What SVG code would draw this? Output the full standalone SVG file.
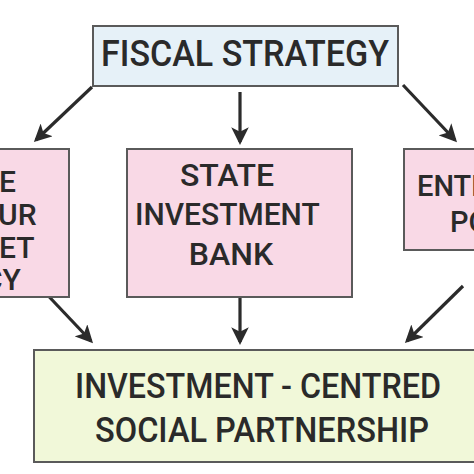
<svg xmlns="http://www.w3.org/2000/svg" width="474" height="474" viewBox="0 0 474 474">
<defs>
<style>
.box{stroke:#5a5a5a;stroke-width:2}
.t{font-family:Roboto,"Liberation Sans",Arial,sans-serif;font-weight:500;fill:#2a2a2a}
.c{stroke:#2b2b2b;stroke-width:3.2;fill:none;marker-end:url(#ah)}
</style>
<marker id="ah" viewBox="0 0 12 12" refX="10" refY="6" markerWidth="5.5" markerHeight="5.5" orient="auto" markerUnits="strokeWidth">
<path d="M0,0 L12,6 L0,12 L3,6 Z" fill="#2b2b2b"/>
</marker>
</defs>
<rect width="474" height="474" fill="#ffffff"/>
<g id="connectors">
<line class="c" x1="92" y1="87" x2="36" y2="140"/>
<line class="c" x1="240" y1="92" x2="240" y2="142"/>
<line class="c" x1="403" y1="85" x2="455" y2="140"/>
<line class="c" x1="38" y1="285" x2="91" y2="341"/>
<line class="c" x1="240" y1="298" x2="240" y2="342"/>
<line class="c" x1="463" y1="286" x2="407" y2="341"/>
</g>
<g id="fiscal-strategy">
<rect class="box" x="93" y="26" width="305" height="60" fill="#e6f1f8"/>
<text class="t" x="245" y="66" font-size="37" text-anchor="middle" textLength="288" lengthAdjust="spacingAndGlyphs">FISCAL STRATEGY</text>
</g>
<g id="labour-market-policy">
<rect class="box" x="-10" y="149" width="79" height="148" fill="#f9d9e6"/>
<text class="t" font-size="30">
<tspan x="-1" y="192">E</tspan>
<tspan x="-2" y="225">UR</tspan>
<tspan x="-1" y="258">ET</tspan>
<tspan x="-17" y="290">CY</tspan>
</text>
</g>
<g id="state-investment-bank">
<rect class="box" x="127" y="149" width="225" height="148" fill="#f9d9e6"/>
<text class="t" font-size="32" text-anchor="middle">
<tspan x="231" y="186">STATE</tspan>
<tspan x="231" y="225" textLength="184" lengthAdjust="spacingAndGlyphs">INVESTMENT</tspan>
<tspan x="231" y="265">BANK</tspan>
</text>
</g>
<g id="enterprise-policy">
<rect class="box" x="404" y="149" width="80" height="101" fill="#f9d9e6"/>
<text class="t" font-size="29">
<tspan x="417" y="196">ENTE</tspan>
<tspan x="450" y="232">PO</tspan>
</text>
</g>
<g id="investment-centred-social-partnership">
<rect class="box" x="34" y="350" width="450" height="112" fill="#f1f8d9"/>
<text class="t" font-size="35">
<tspan x="75" y="398" textLength="366" lengthAdjust="spacingAndGlyphs">INVESTMENT - CENTRED</tspan>
<tspan x="95" y="442" textLength="334" lengthAdjust="spacingAndGlyphs">SOCIAL PARTNERSHIP</tspan>
</text>
</g>
</svg>
